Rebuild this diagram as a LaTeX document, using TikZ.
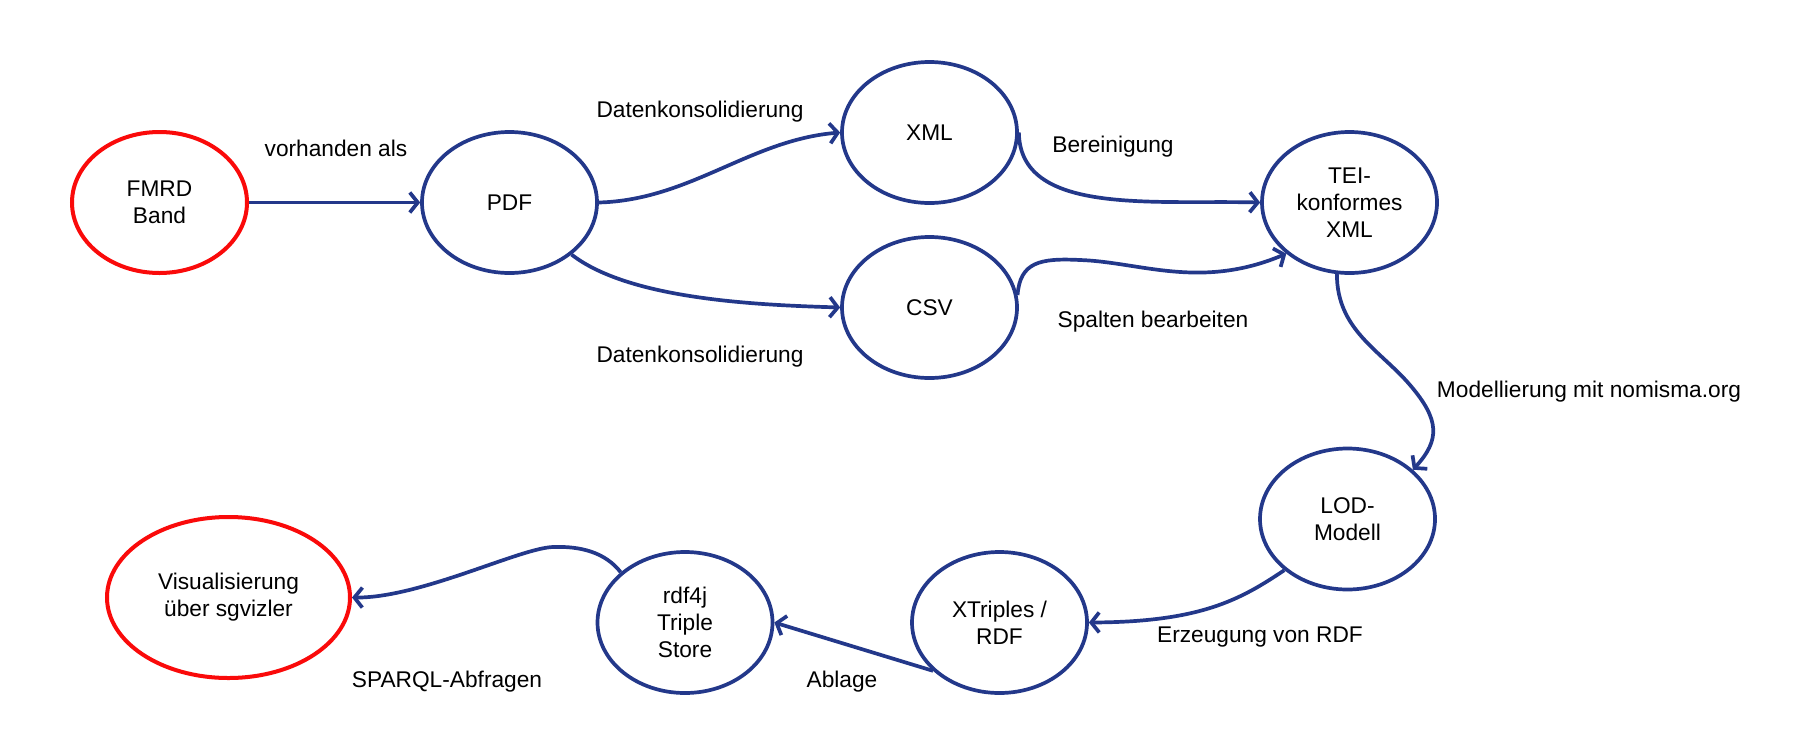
\documentclass[tikz,border=0pt]{standalone}
\usepackage{fontspec}
\setmainfont{Liberation Sans}
\usetikzlibrary{shapes.geometric,arrows.meta}
\definecolor{navy}{RGB}{35,56,138}
\definecolor{redc}{RGB}{250,10,10}
\begin{document}
\begin{tikzpicture}[x=1pt,y=-1pt,
  every node/.style={font=\fontsize{22.7}{27}\selectfont},
  stage/.style={ellipse, draw=navy, line width=3.7pt, minimum width=175pt, minimum height=141pt, inner sep=0pt, align=center},
  endpoint/.style={stage, draw=redc, line width=4pt},
  flow/.style={draw=navy, line width=3.7pt, -{Straight Barb[length=8pt,width=20pt]}},
  lbl/.style={inner sep=0pt}]
\useasboundingbox[fill=white] (0,0) rectangle (1793,742);

% nodes
\node[endpoint] (fmrd) at (159.5,202.5) {FMRD\\Band};
\node[stage] (pdf) at (509.5,202.5) {PDF};
\node[stage] (xml) at (929.5,132.5) {XML};
\node[stage] (csv) at (929.5,307.5) {CSV};
\node[stage] (tei) at (1349.5,202.5) {TEI-\\konformes\\XML};
\node[stage] (lod) at (1347.5,519) {LOD-\\Modell};
\node[stage] (xtr) at (999.5,622.5) {XTriples /\\RDF};
\node[stage] (rdf) at (685,622.5) {rdf4j\\Triple\\Store};
\node[endpoint, minimum width=243pt, minimum height=161pt] (vis) at (228.5,597.5) {Visualisierung\\über sgvizler};

% labels
\node[lbl] (l1) at (336,148) {vorhanden als};
\node[lbl] (l2) at (700,112) {Datenkonsolidierung};
\node[lbl] (l3) at (700,357) {Datenkonsolidierung};
\node[lbl] (l4) at (1113,147) {Bereinigung};
\node[lbl] (l5) at (1153,322) {Spalten bearbeiten};
\node[lbl] (l6) at (1589,392) {Modellierung mit nomisma.org};
\node[lbl] (l7) at (1260,637) {Erzeugung von RDF};
\node[lbl] (l8) at (842,682) {Ablage};
\node[lbl] (l9) at (447,682) {SPARQL-Abfragen};

% connectors
\draw[flow] (fmrd.east) -- (pdf.west);
\draw[flow] (pdf.east) .. controls (690,200) and (750,140) .. (xml.west);
\draw[flow] (pdf.-40) .. controls (630,300) and (760,305) .. (csv.west);
\draw[flow] (xml.east) .. controls (1020,215) and (1150,200) .. (tei.west);
\draw[flow] (csv.8) .. controls (1020,262) and (1040,258) .. (1080,260)
  .. controls (1140,262) and (1200,290) .. (tei.-141);
\draw[flow] (tei.-100) .. controls (1337,330) and (1380,350) .. (1410,385)
  .. controls (1440,420) and (1440,440) .. (lod.37);
\draw[flow] (lod.-141) .. controls (1240,600) and (1200,622) .. (xtr.east);
\draw[flow] (xtr.-144) -- (rdf.east);
\draw[flow] (rdf.142) .. controls (605,552) and (580,546) .. (553,547)
  .. controls (520,548) and (420,598) .. (vis.east);
\end{tikzpicture}
\end{document}
